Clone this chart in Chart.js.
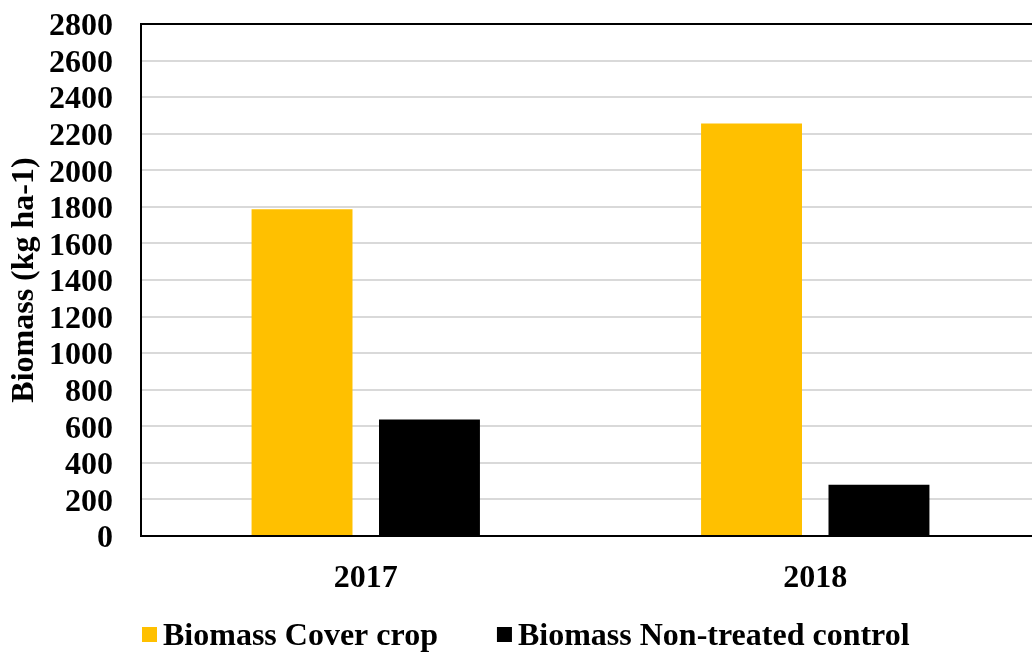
<!DOCTYPE html>
<html>
<head>
<meta charset="utf-8">
<title>Biomass</title>
<script src="https://cdn.jsdelivr.net/npm/chart.js@4/dist/chart.umd.min.js"></script>
<style>
  html, body { margin: 0; padding: 0; overflow: hidden; background: #fff; }
  #wrap { width: 1032px; height: 654px; overflow: hidden; }
  canvas { display: block; }
</style>
</head>
<body>
<div id="wrap"><canvas id="chart" width="1040" height="654"></canvas></div>
<script>
// Harvest years on the category axis
const years = ['2017', '2018'];
// Biomass (kg ha-1) per year
const coverCrop = [1787, 2256];
const nonTreated = [637, 280];
// Series names shown in the legend
const seriesNames = ['Biomass Cover crop', 'Biomass Non-treated control'];
// Value axis ticks
const yTickValues = [0, 200, 400, 600, 800, 1000, 1200, 1400, 1600, 1800, 2000, 2200, 2400, 2600, 2800];
const yTickLabels = ['0', '200', '400', '600', '800', '1000', '1200', '1400', '1600', '1800', '2000', '2200', '2400', '2600', '2800'];
const yTitle = 'Biomass (kg ha-1)';

const yMin = yTickValues[0];
const yMax = yTickValues[yTickValues.length - 1];

const FONT_FAMILY = "'Liberation Serif', 'Times New Roman', serif";
const boldFont = { family: FONT_FAMILY, size: 32, weight: 'bold' };

// Legend drawn as a single row below the axis
const bottomLegend = {
  id: 'bottomLegend',
  afterDraw(chart, args, opts) {
    const ctx = chart.ctx;
    ctx.save();
    ctx.font = `bold ${opts.fontSize}px ${FONT_FAMILY}`;
    ctx.textBaseline = 'middle';
    ctx.textAlign = 'left';
    let x = opts.x;
    chart.data.datasets.forEach(ds => {
      ctx.fillStyle = ds.backgroundColor;
      ctx.fillRect(x, opts.y - opts.box / 2, opts.box, opts.box);
      x += opts.box + opts.textGap;
      ctx.fillStyle = '#000';
      ctx.fillText(ds.label, x, opts.y + opts.textShift);
      x += ctx.measureText(ds.label).width + opts.itemGap;
    });
    ctx.restore();
  }
};

new Chart(document.getElementById('chart'), {
  type: 'bar',
  data: {
    labels: years,
    datasets: [
      { label: seriesNames[0], data: coverCrop, backgroundColor: '#FFC000', borderWidth: 0 },
      { label: seriesNames[1], data: nonTreated, backgroundColor: '#000000', borderWidth: 0 }
    ]
  },
  options: {
    responsive: false,
    animation: false,
    devicePixelRatio: 1,
    categoryPercentage: 0.567,
    barPercentage: 0.792,
    layout: { padding: { top: 24, left: 0, right: 0, bottom: 0 } },
    plugins: {
      legend: { display: false },
      tooltip: { enabled: false },
      bottomLegend: { x: 142, y: 634.5, box: 15, textGap: 6, itemGap: 59, fontSize: 32, textShift: 2 }
    },
    scales: {
      x: {
        grid: { display: false },
        border: { display: true, color: '#000', width: 2 },
        ticks: { font: boldFont, color: '#000', padding: 16 },
        afterFit(s) { s.height = 118; s.paddingLeft = 0; s.paddingRight = 0; }
      },
      y: {
        min: yMin,
        max: yMax,
        afterBuildTicks(s) { s.ticks = yTickValues.map(v => ({ value: v })); },
        ticks: {
          autoSkip: false,
          font: boldFont,
          color: '#000',
          padding: 28,
          labelOffset: 3,
          callback: (v) => yTickLabels[yTickValues.indexOf(v)]
        },
        grid: {
          drawTicks: false,
          lineWidth: 2,
          color: c => (c.tick && (c.tick.value === yMin || c.tick.value === yMax)) ? '#000' : '#d9d9d9'
        },
        border: { display: true, color: '#000', width: 2 },
        title: { display: true, text: yTitle, font: boldFont, color: '#000', padding: { top: 6, bottom: 0 } },
        afterFit(s) { s.width = 141; s.paddingTop = 0; s.paddingBottom = 0; }
      }
    }
  },
  plugins: [bottomLegend]
});
</script>
</body>
</html>
